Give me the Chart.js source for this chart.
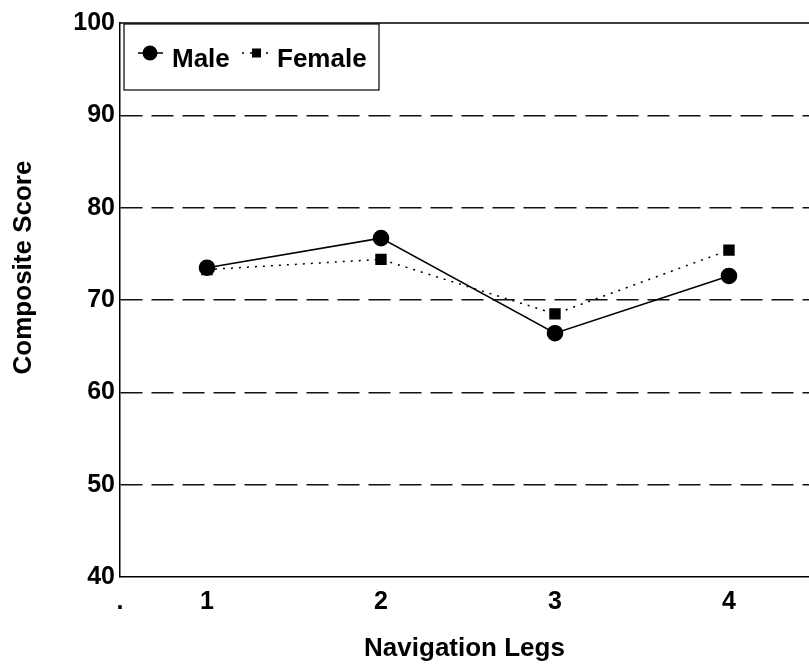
<!DOCTYPE html>
<html>
<head>
<meta charset="utf-8">
<script src="https://cdn.jsdelivr.net/npm/chart.js@4/dist/chart.umd.min.js"></script>
<style>
  html, body { margin: 0; padding: 0; background: #fff; overflow: hidden; }
  #wrap { width: 809px; height: 665px; position: relative; }
</style>
</head>
<body>
<div id="wrap"><canvas id="c" width="809" height="665"></canvas></div>
<script>
// ---- data ----
const legs = [1, 2, 3, 4];
const maleScores = [73.5, 76.7, 66.4, 72.6];
const femaleScores = [73.3, 74.4, 68.5, 75.4];
const seriesNames = ['Male', 'Female'];
const xTickValues = [0.5, 1, 2, 3, 4];
const xTickLabels = ['.', '1', '2', '3', '4'];
const yTickValues = [40, 50, 60, 70, 80, 90, 100];
const xTitle = 'Navigation Legs';
const yTitle = 'Composite Score';

const FONT = '"Liberation Sans", Arial, Helvetica, sans-serif';

const toPoints = (vals) => legs.map((x, i) => ({ x: x, y: vals[i] }));

const topBorder = {
  id: 'topBorder',
  afterDatasetsDraw(chart) {
    const { ctx, chartArea, scales } = chart;
    const y = scales.y.getPixelForValue(100);
    ctx.save();
    ctx.strokeStyle = '#000';
    ctx.lineWidth = 1.5;
    ctx.beginPath();
    ctx.moveTo(chartArea.left, y);
    ctx.lineTo(chartArea.right, y);
    ctx.stroke();
    ctx.restore();
  }
};

const boxLegend = {
  id: 'boxLegend',
  afterDraw(chart) {
    const { ctx, chartArea } = chart;
    const ds = chart.data.datasets;
    const bx = chartArea.left + 4, by = chartArea.top + 1, bw = 255, bh = 66;
    ctx.save();
    ctx.fillStyle = '#fff';
    ctx.fillRect(bx, by, bw, bh);
    ctx.strokeStyle = '#000';
    ctx.lineWidth = 1.2;
    ctx.strokeRect(bx, by, bw, bh);
    const cy = by + 29;
    ctx.font = 'bold 26px ' + FONT;
    ctx.fillStyle = '#000';
    ctx.textBaseline = 'alphabetic';
    // Male entry
    let x0 = bx + 14;
    ctx.setLineDash(ds[0].borderDash || []);
    ctx.lineWidth = 1.5;
    ctx.beginPath(); ctx.moveTo(x0, cy); ctx.lineTo(x0 + 25, cy); ctx.stroke();
    ctx.setLineDash([]);
    ctx.beginPath(); ctx.arc(x0 + 12, cy, 7.5, 0, Math.PI * 2); ctx.fill();
    ctx.fillText(ds[0].label, x0 + 34, cy + 14);
    // Female entry
    let x1 = bx + 118;
    ctx.setLineDash(ds[1].borderDash || []);
    ctx.beginPath(); ctx.moveTo(x1, cy); ctx.lineTo(x1 + 32, cy); ctx.stroke();
    ctx.setLineDash([]);
    ctx.fillRect(x1 + 10, cy - 4.5, 9, 9);
    ctx.fillText(ds[1].label, x1 + 35, cy + 14);
    ctx.restore();
  }
};

new Chart(document.getElementById('c'), {
  type: 'line',
  data: {
    datasets: [
      {
        label: seriesNames[0],
        data: toPoints(maleScores),
        borderColor: '#000',
        backgroundColor: '#000',
        borderWidth: 1.6,
        pointStyle: 'circle',
        pointRadius: 7.5,
        pointBackgroundColor: '#000',
        pointBorderColor: '#000',
        tension: 0
      },
      {
        label: seriesNames[1],
        data: toPoints(femaleScores),
        borderColor: '#000',
        backgroundColor: '#000',
        borderWidth: 1.5,
        borderDash: [2, 6],
        pointStyle: 'rect',
        pointRadius: 7,
        pointBackgroundColor: '#000',
        pointBorderColor: '#000',
        tension: 0
      }
    ]
  },
  options: {
    responsive: false,
    animation: false,
    devicePixelRatio: 1,
    layout: { autoPadding: false, padding: { left: 0, right: 0, top: 23, bottom: 1 } },
    plugins: { legend: { display: false }, tooltip: { enabled: false } },
    scales: {
      x: {
        type: 'linear',
        min: 0.5,
        max: 4.46,
        afterBuildTicks: (s) => { s.ticks = xTickValues.map(v => ({ value: v })); },
        afterFit: (s) => { s.height = 87; },
        grid: { display: false, drawTicks: false },
        border: { display: true, color: '#000', width: 1.5 },
        ticks: {
          color: '#000',
          padding: 10,
          font: { family: FONT, size: 25, weight: 'bold' },
          callback: (v) => { const i = xTickValues.indexOf(v); return i >= 0 ? xTickLabels[i] : ''; }
        },
        title: {
          display: true,
          text: xTitle,
          color: '#000',
          font: { family: FONT, size: 26, weight: 'bold' },
          padding: { top: 0, bottom: 0 }
        }
      },
      y: {
        type: 'linear',
        min: 40,
        max: 100,
        afterBuildTicks: (s) => { s.ticks = yTickValues.map(v => ({ value: v })); },
        afterFit: (s) => { s.width = 120; },
        grid: {
          drawTicks: false,
          color: (c) => (c.tick && (c.tick.value === 40 || c.tick.value === 100)) ? 'rgba(0,0,0,0)' : '#111',
          lineWidth: 1.5
        },
        border: { display: true, color: '#000', width: 1.5, dash: [22, 9] },
        ticks: {
          color: '#000',
          padding: 5,
          font: { family: FONT, size: 25, weight: 'bold' }
        },
        title: {
          display: true,
          text: '         ' + yTitle,
          color: '#000',
          font: { family: FONT, size: 26, weight: 'bold' },
          padding: { top: 8, bottom: 0 }
        }
      }
    }
  },
  plugins: [topBorder, boxLegend]
});
</script>
</body>
</html>
